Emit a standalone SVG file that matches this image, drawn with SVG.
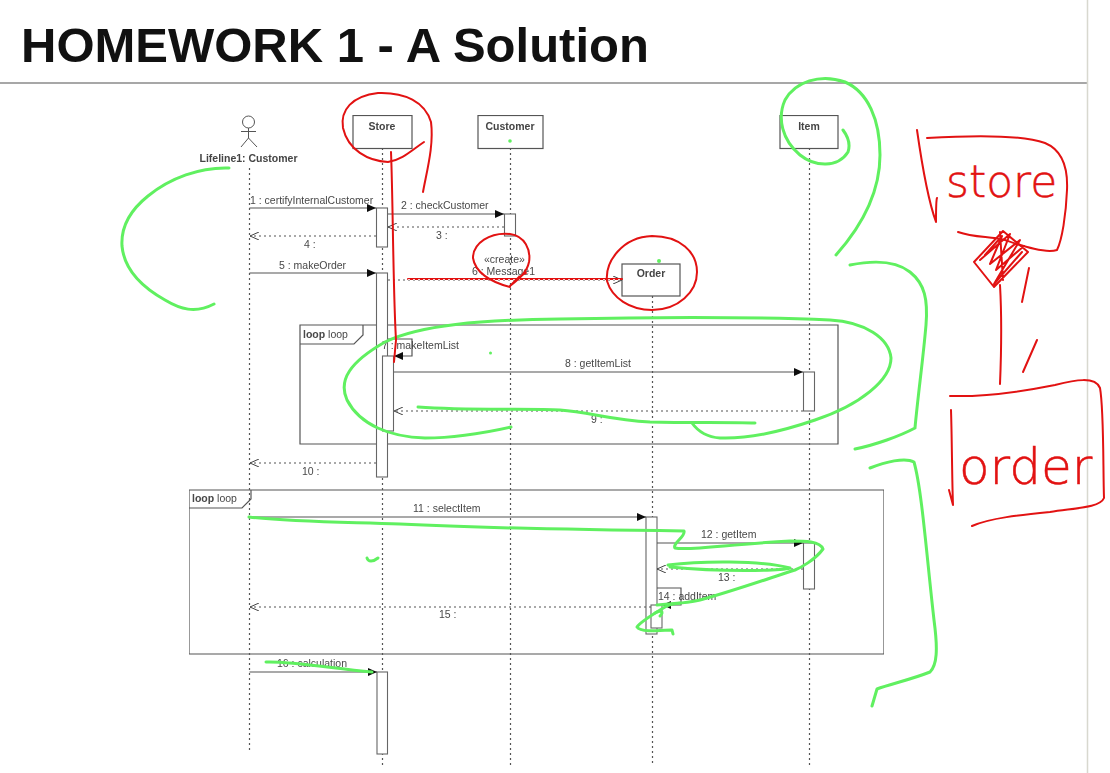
<svg xmlns="http://www.w3.org/2000/svg" width="1110" height="773" viewBox="0 0 1110 773">
<style>
text{font-family:"Liberation Sans",Arial,sans-serif;fill:#484848;font-size:10.500px}
.title{font-size:49px;font-weight:700;fill:#111}
.nm{font-weight:700;font-size:10.500px;fill:#444;text-anchor:middle}
.box{fill:#fff;stroke:#555;stroke-width:1.200}
.act{fill:#fff;stroke:#666;stroke-width:1.100}
.life{stroke:#555;stroke-width:1.200;stroke-dasharray:2 3;fill:none}
.frame{fill:none;stroke:#555;stroke-width:1.200}
.msg{stroke:#555;stroke-width:1.200;fill:none}
.ret{stroke:#555;stroke-width:1.200;stroke-dasharray:2 3;fill:none}
.g{fill:none;stroke:#60f060;stroke-width:3;stroke-linecap:round;stroke-linejoin:round}
.r{fill:none;stroke:#e21212;stroke-width:2;stroke-linecap:round;stroke-linejoin:round}
.hw{font-family:"DejaVu Sans ExtraLight","DejaVu Sans",sans-serif;font-weight:200;fill:#e21212;stroke:#e21212;stroke-width:.5px}
.hw1{font-size:44px}
.hw2{font-size:50px}
</style>
<defs>
<filter id="soft" x="0" y="0" width="100%" height="100%"><feGaussianBlur stdDeviation="0.450"/></filter>
<marker id="a" markerWidth="10" markerHeight="8" refX="9" refY="4" orient="auto" markerUnits="userSpaceOnUse"><path d="M0 0L9 4L0 8z" fill="#111"/></marker>
<marker id="o" markerWidth="10" markerHeight="8" refX="9" refY="4" orient="auto" markerUnits="userSpaceOnUse"><path d="M0 0L9 4L0 8" fill="none" stroke="#444"/></marker>
</defs>
<rect width="1110" height="773" fill="#fff"/>
<text class="title" x="21" y="62">HOMEWORK 1 - A Solution</text>
<path d="M0 83H1087" stroke="#8a8a8a" stroke-width="1.300"/>
<path d="M1087.500 0V773" stroke="#d8d8cf" stroke-width="1.500"/>

<g filter="url(#soft)">
<g id="frames">
<path class="frame" d="M300 325H838V444H300zM300 344H354L363 335V325"/>
<text x="303" y="338"><tspan font-weight="700">loop</tspan> loop</text>
<path class="frame" d="M189 490H884V654H189zM189 508H242L251 499V490"/>
<text x="192" y="502"><tspan font-weight="700">loop</tspan> loop</text>
</g>

<g id="lifelines">
<path class="life" d="M249.500 168V752M382.500 148V765M510.500 148V765M652.500 296V765M809.500 148V765"/>
</g>

<g id="actor-customer">
<circle cx="248.500" cy="122" r="6" fill="#fff" stroke="#555"/>
<path d="M248.500 128V138M241 131.500H256M248.500 138L241 147M248.500 138L257 147" fill="none" stroke="#555"/>
<text class="nm" x="248.500" y="162">Lifeline1: Customer</text>
</g>
<g id="node-store"><rect class="box" x="353" y="115.500" width="59" height="33"/><text class="nm" x="382" y="130">Store</text></g>
<g id="node-customer"><rect class="box" x="478" y="115.500" width="65" height="33"/><text class="nm" x="510" y="130">Customer</text></g>
<g id="node-item"><rect class="box" x="780" y="115.500" width="58" height="33"/><text class="nm" x="809" y="130">Item</text></g>
<g id="node-order"><rect class="box" x="622" y="264" width="58" height="32"/><text class="nm" x="651" y="277">Order</text></g>

<g id="activations">
<rect class="act" x="376.500" y="208" width="11" height="39"/>
<rect class="act" x="504.500" y="214" width="11" height="22"/>
<rect class="act" x="376.500" y="273" width="11" height="204"/>
<rect class="act" x="382.500" y="356" width="11" height="75"/>
<rect class="act" x="803.500" y="372" width="11" height="39"/>
<rect class="act" x="646" y="517" width="11" height="117"/>
<rect class="act" x="651" y="605" width="11" height="23"/>
<rect class="act" x="803.500" y="543" width="11" height="46"/>
<rect class="act" x="377" y="672" width="10.500" height="82"/>
</g>

<g id="connectors">
<path class="msg" d="M249.500 208H376" marker-end="url(#a)"/>
<path class="msg" d="M388 214H504" marker-end="url(#a)"/>
<path class="ret" d="M504 227H388" marker-end="url(#o)"/>
<path class="ret" d="M376 236H250" marker-end="url(#o)"/>
<path class="msg" d="M249.500 273H376" marker-end="url(#a)"/>
<path class="ret" d="M388 280H622" marker-end="url(#o)"/>
<path class="msg" d="M388 339H412V356H394" marker-end="url(#a)"/>
<path class="msg" d="M394 372H803" marker-end="url(#a)"/>
<path class="ret" d="M803 411H394" marker-end="url(#o)"/>
<path class="ret" d="M376 463H250" marker-end="url(#o)"/>
<path class="msg" d="M249.500 517H646" marker-end="url(#a)"/>
<path class="msg" d="M657 543H803" marker-end="url(#a)"/>
<path class="ret" d="M803 569H657" marker-end="url(#o)"/>
<path class="msg" d="M657 588H681V605H662" marker-end="url(#a)"/>
<path class="ret" d="M651 607H250" marker-end="url(#o)"/>
<path class="msg" d="M249.500 672H377" marker-end="url(#a)"/>
</g>

<g id="message-labels">
<text x="250" y="204">1 : certifyInternalCustomer</text>
<text x="401" y="209">2 : checkCustomer</text>
<text x="436" y="239">3 :</text>
<text x="304" y="248">4 :</text>
<text x="279" y="269">5 : makeOrder</text>
<text x="484" y="263">«create»</text>
<text x="472" y="275">6 : Message1</text>
<text x="382" y="349">7 : makeItemList</text>
<text x="565" y="367">8 : getItemList</text>
<text x="591" y="423">9 :</text>
<text x="302" y="475">10 :</text>
<text x="413" y="512">11 : selectItem</text>
<text x="701" y="538">12 : getItem</text>
<text x="718" y="581">13 :</text>
<text x="658" y="600">14 : addItem</text>
<text x="439" y="618">15 :</text>
<text x="277" y="667">16 : calculation</text>
</g>
</g>

<g id="green-ink">
<path class="g" d="M229 168C200 167 170 178 148 196C128 212 121 230 122 246C124 268 140 286 165 300C180 309 195 314 214 304"/>
<path class="g" d="M836 255C860 228 880 195 880 155C880 120 868 92 845 82C820 73 795 82 785 100C777 118 782 140 800 155C815 167 838 168 848 152C851 143 846 134 843 130"/>
<path class="g" d="M850 265C870 261 895 260 910 272C925 284 928 300 926 325C923 360 918 395 915 428C900 436 875 445 855 449"/>
<path class="g" d="M870 468C885 462 905 457 914 462C922 490 927 560 934 620C938 650 937 665 930 672C910 680 890 684 877 689L872 706"/>
<path class="g" d="M511 427C480 434 450 438 425 438C390 437 360 425 347 400C338 380 350 362 385 342C420 325 480 320 560 319C650 317 760 317 830 320C865 322 889 338 891 358C891 380 860 405 815 420C780 432 745 439 720 438C705 437 697 430 692 423"/>
<path class="g" d="M418 407C470 411 530 408 560 410C590 412 610 420 650 422C690 423 730 422 755 423"/>
<circle cx="490.500" cy="353" r="1.500" fill="#60f060"/>
<circle cx="510" cy="141" r="1.800" fill="#60f060"/>
<circle cx="659" cy="261" r="2" fill="#60f060"/>
<path class="g" d="M249 517C290 522 340 522 400 524C480 528 600 530 684 531C686 536 672 544 675 548C690 551 730 544 790 541C805 541 820 541 823 549C815 560 800 568 795 570C770 578 730 592 700 600C685 604 672 602 665 607C655 613 640 622 637 627C640 632 655 631 672 630L673 634M668 565C700 561 760 560 790 568C780 571 720 572 670 567"/>
<path class="g" d="M657 605L680 603M655 613C660 610 665 611 660 616"/>
<path class="g" d="M367 558C368 562 373 562 378 558" stroke-width="2.500"/>
<path class="g" d="M266 662C290 661 330 668 372 672"/>
</g>

<g id="red-ink">
<path class="r" d="M424 142C412 150 402 160 388 162C368 161 348 150 343 128C340 110 352 96 378 93C405 92 425 102 431 122C434 145 427 170 423 192"/>
<path class="r" d="M391 152C393 200 393 290 396 340L394 362" stroke-width="2.300"/>
<path class="r" d="M408 279H622" stroke-width="3"/>
<path class="ret" d="M408 279.500H622" style="stroke:#fff;stroke-width:.8"/>
<path class="r" d="M510 287C490 282 475 272 473 258C473 243 490 232 510 234C525 236 531 250 529 262C527 272 520 278 510 286L519 277L526 273"/>
<path class="r" d="M607 281C605 262 622 237 652 236C680 236 697 252 697 272C697 292 678 310 652 310C630 310 612 298 607 281Z"/>
<path class="r" d="M917 130C922 165 928 200 936 222C936 210 936 200 937 198"/>
<path class="r" d="M927 138C960 136 1020 134 1045 143C1062 150 1068 168 1067 190C1066 215 1062 240 1057 250C1045 254 1020 245 1005 240C990 236 975 238 958 232"/>
<path class="r" d="M1003 231L1028 252L994 287L974 262ZM985 255L1002 236L990 264L1020 240L994 284L1022 252M980 260L1010 234L996 270L1024 246M1000 232L1003 280"/>
<path class="r" d="M1000 285C1002 320 1001 360 1000 384"/>
<path class="r" d="M1029 268L1022 302M1037 340L1023 372"/>
<path class="r" d="M950 396C985 397 1020 392 1055 385C1075 380 1095 376 1100 388C1104 410 1103 470 1104 498C1100 508 1075 508 1050 512C1020 515 990 518 972 526"/>
<path class="r" d="M951 410C952 440 952 480 953 505L949 490"/>
<text class="hw hw1" x="946" y="197">store</text>
<text class="hw hw2" x="959" y="484">order</text>
</g>
</svg>
